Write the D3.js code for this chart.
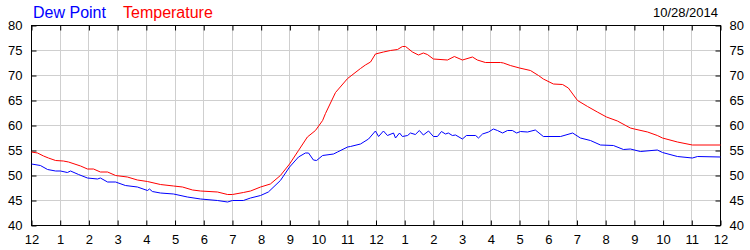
<!DOCTYPE html>
<html>
<head>
<meta charset="utf-8">
<script src="https://cdn.jsdelivr.net/npm/d3@7"></script>
<style>
  body { margin: 0; background: #fff; }
  text { font-family: "Liberation Sans", Arial, sans-serif; }
</style>
</head>
<body>
<svg id="chart"></svg>
<script>
const width = 750;
const height = 250;
const margin = { top: 25, right: 30, bottom: 25, left: 31 };
const innerW = width - margin.left - margin.right;
const innerH = height - margin.top - margin.bottom;

// hours since midnight, 10/28/2014
const tempHours = [0, 0.21, 0.42, 0.59, 0.84, 1.11, 1.29, 1.71, 1.95, 2.16, 2.4, 2.65, 2.93, 3.34, 3.69, 4.04,
  4.49, 4.95, 5.26, 5.61, 5.89, 6.48, 6.83, 7.0, 7.38, 7.63, 7.98, 8.32, 8.67, 8.99, 9.3, 9.61, 9.89,
  10.14, 10.24, 10.59, 11.01, 11.46, 11.63, 11.81, 11.98, 12.26, 12.5, 12.75, 12.92, 13.03, 13.27, 13.48,
  13.65, 13.79, 14.0, 14.49, 14.73, 15.01, 15.36, 15.53, 15.81, 16.34, 16.44, 16.68, 17.0, 17.38, 17.66,
  17.83, 18.18, 18.5, 18.7, 19.02, 19.37, 19.71, 20.03, 20.41, 20.86, 21.0, 21.46, 21.8, 21.98, 22.5,
  23.02, 24.0];
const tempValues = [54.7, 54.5, 53.9, 53.5, 53.0, 52.9, 52.7, 51.9, 51.3, 51.3, 50.7, 50.7, 50.0, 49.7, 49.1, 48.8,
  48.2, 47.9, 47.7, 47.1, 46.9, 46.7, 46.2, 46.2, 46.6, 46.9, 47.7, 48.3, 50.0, 52.3, 55.0, 57.7, 59.0,
  61.0, 62.4, 66.6, 69.4, 71.4, 72.1, 72.7, 74.3, 74.7, 75.0, 75.2, 75.8, 75.8, 74.7, 74.1,
  74.5, 74.2, 73.3, 73.1, 73.8, 73.1, 73.7, 73.1, 72.6, 72.6, 72.5, 72.0, 71.5, 71.0, 70.0,
  69.3, 68.3, 68.2, 67.5, 65.0, 63.8, 62.7, 61.7, 60.9, 59.5, 59.3, 58.7, 58.0, 57.5, 56.7,
  56.1, 56.1];

const dewHours = [0, 0.31, 0.56, 0.84, 1.01, 1.25, 1.36, 1.64, 1.95, 2.3, 2.4, 2.65, 2.93, 3.27, 3.69, 4.04,
  4.11, 4.21, 4.49, 4.95, 5.43, 5.89, 6.48, 6.83, 7.0, 7.38, 7.63, 7.98, 8.25, 8.67, 8.99, 9.3, 9.54,
  9.65, 9.82, 9.93, 10.14, 10.52, 10.66, 11.01, 11.11, 11.46, 11.74, 11.98, 12.09, 12.26, 12.4, 12.61,
  12.68, 12.82, 12.92, 13.1, 13.2, 13.37, 13.51, 13.65, 13.83, 14.0, 14.14, 14.28, 14.42, 14.52, 14.66,
  14.77, 15.01, 15.15, 15.47, 15.57, 15.71, 15.92, 16.09, 16.23, 16.41, 16.58, 16.75, 16.9, 17.03,
  17.28, 17.55, 17.83, 18.43, 18.85, 19.12, 19.47, 19.82, 20.27, 20.62, 20.86, 21.21, 21.8, 21.98,
  22.5, 23.02, 23.2, 24.0];
const dewValues = [52.3, 52.0, 51.2, 50.9, 50.9, 50.6, 50.9, 50.2, 49.5, 49.3, 49.5, 48.7, 48.7, 48.0, 47.7, 47.0,
  47.3, 46.8, 46.5, 46.3, 45.7, 45.3, 45.0, 44.7, 45.0, 45.0, 45.5, 46.0, 46.7, 49.0, 51.7, 53.7, 54.5,
  54.5, 53.1, 53.0, 54.0, 54.3, 54.7, 55.7, 55.8, 56.3, 57.3, 58.9, 57.8, 58.9, 58.0, 58.5,
  57.5, 58.5, 57.8, 58.0, 58.5, 58.2, 59.0, 58.1, 58.9, 57.8, 57.8, 58.8, 58.3, 58.5, 58.0,
  58.1, 57.3, 58.0, 58.0, 57.5, 58.3, 58.7, 59.3, 59.0, 58.5, 59.0, 59.0, 58.5, 58.8,
  58.7, 59.1, 57.8, 57.8, 58.5, 57.5, 57.0, 56.1, 56.0, 55.2, 55.3, 54.8, 55.1, 54.6,
  53.8, 53.5, 53.8, 53.7];

const hourTicks = d3.range(0, 25);
const yTicks = d3.range(40, 81, 5);
const dateLabel = "10/28/2014";

const svg = d3.select("#chart")
    .attr("width", width)
    .attr("height", height);

const x = d3.scaleLinear().domain([0, 24]).range([0, innerW]);
const y = d3.scaleLinear().domain([40, 80]).range([innerH, 0]);

const g = svg.append("g")
    .attr("transform", `translate(${margin.left + 0.5},${margin.top + 0.5})`);

// grid
g.append("g")
    .selectAll("line")
    .data(hourTicks)
    .join("line")
    .attr("x1", d => Math.round(x(d))).attr("x2", d => Math.round(x(d)))
    .attr("y1", 0).attr("y2", innerH)
    .attr("stroke", "#cfcfcf");
g.append("g")
    .selectAll("line")
    .data(yTicks)
    .join("line")
    .attr("x1", 0).attr("x2", innerW)
    .attr("y1", d => Math.round(y(d))).attr("y2", d => Math.round(y(d)))
    .attr("stroke", "#cfcfcf");

const hourLabel = h => (h % 12 === 0 ? 12 : h % 12);
const tickStyle = sel => {
  sel.select(".domain").remove();
  sel.selectAll(".tick line").attr("stroke", "#000");
  sel.selectAll(".tick text")
      .attr("fill", "#000")
      .style("font-size", "13px")
      .style("font-family", "'Liberation Sans', Arial, sans-serif");
};

// axes: ticks pointing into the plot
g.append("g")
    .attr("transform", `translate(0,${innerH})`)
    .call(d3.axisBottom(x).tickValues(hourTicks).tickFormat(hourLabel).tickSizeInner(-5).tickPadding(9))
    .call(tickStyle);
g.append("g")
    .call(d3.axisTop(x).tickValues(hourTicks).tickFormat("").tickSizeInner(-5))
    .call(tickStyle);
g.append("g")
    .call(d3.axisLeft(y).tickValues(yTicks).tickSizeInner(-5).tickPadding(9))
    .call(tickStyle);
g.append("g")
    .attr("transform", `translate(${innerW},0)`)
    .call(d3.axisRight(y).tickValues(yTicks).tickSizeInner(-5).tickPadding(9))
    .call(tickStyle);

g.append("rect")
    .attr("width", innerW)
    .attr("height", innerH)
    .attr("fill", "none")
    .attr("stroke", "#000");

const line = d3.line()
    .x(d => x(d[0]))
    .y(d => y(d[1]));

g.append("path")
    .datum(d3.zip(dewHours, dewValues))
    .attr("d", line)
    .attr("fill", "none")
    .attr("stroke", "#0000ff")
    .attr("stroke-width", 1);

g.append("path")
    .datum(d3.zip(tempHours, tempValues))
    .attr("d", line)
    .attr("fill", "none")
    .attr("stroke", "#ff0000")
    .attr("stroke-width", 1);

// legend / title
svg.append("text")
    .attr("x", 33).attr("y", 18)
    .attr("fill", "#0000ff")
    .style("font-size", "16px")
    .text("Dew Point");
svg.append("text")
    .attr("x", 123).attr("y", 18)
    .attr("fill", "#ff0000")
    .style("font-size", "16px")
    .text("Temperature");
svg.append("text")
    .attr("x", 718).attr("y", 17)
    .attr("text-anchor", "end")
    .attr("fill", "#000")
    .style("font-size", "13px")
    .text(dateLabel);
</script>
</body>
</html>
